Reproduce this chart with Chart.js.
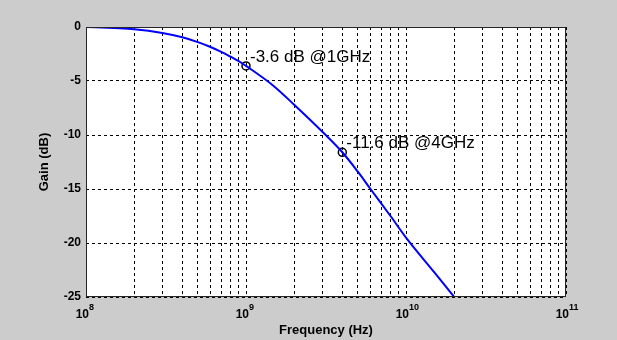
<!DOCTYPE html>
<html>
<head>
<meta charset="utf-8">
<script src="https://cdn.jsdelivr.net/npm/chart.js@4.4.0/dist/chart.umd.min.js"></script>
<style>
  html, body { margin: 0; padding: 0; background: #cccccc; }
  #wrap { width: 617px; height: 340px; position: relative; }
</style>
</head>
<body>
<div id="wrap"><canvas id="gainChart"></canvas></div>
<script>
// frequency response
const freqHz = [1e8, 1.5e8, 2e8, 3e8, 4e8, 5e8, 6e8, 7e8, 8e8, 9e8, 1e9,
                1.5e9, 2e9, 3e9, 4e9, 5e9, 6e9, 8e9, 1e10, 1.5e10, 2e10];
const gainDb = [0, -0.1, -0.2, -0.55, -0.95, -1.4, -1.85, -2.3, -2.75, -3.15, -3.6,
                -5.5, -7.2, -9.7, -11.6, -13.4, -15.0, -17.5, -19.5, -22.7, -25];

// marked points and their notes
const markFreq = [1e9, 4e9];
const markGain = [-3.6, -11.6];
const markText = ['-3.6 dB @1GHz', '-11.6 dB @4GHz'];

// axis ticks
const xDecades = [8, 9, 10, 11];
const xGridValues = [
  1e8, 2e8, 3e8, 4e8, 5e8, 6e8, 7e8, 8e8, 9e8,
  1e9, 2e9, 3e9, 4e9, 5e9, 6e9, 7e9, 8e9, 9e9,
  1e10, 2e10, 3e10, 4e10, 5e10, 6e10, 7e10, 8e10, 9e10,
  1e11
];
const yTicks = [0, -5, -10, -15, -20, -25];

const FONT = "'Liberation Sans', Arial, sans-serif";

// white plot area, box, point notes and 10^n labels
const matlabLook = {
  id: 'matlabLook',
  beforeDraw(chart) {
    const { ctx, chartArea: a } = chart;
    ctx.save();
    ctx.fillStyle = '#ffffff';
    ctx.fillRect(a.left, a.top, a.right - a.left, a.bottom - a.top);
    ctx.restore();
  },
  afterDatasetsDraw(chart) {
    const { ctx, chartArea: a, scales } = chart;
    ctx.save();
    ctx.strokeStyle = '#262626';
    ctx.lineWidth = 1;
    ctx.strokeRect(a.left + 0.5, a.top + 0.5, a.right - a.left - 1, a.bottom - a.top - 1);

    // notes next to the markers
    ctx.fillStyle = '#000';
    ctx.font = '17px ' + FONT;
    ctx.textAlign = 'left';
    ctx.textBaseline = 'alphabetic';
    markText.forEach((t, i) => {
      const px = scales.x.getPixelForValue(markFreq[i]);
      const py = scales.y.getPixelForValue(markGain[i]);
      ctx.fillText(t, px + 4, py - 4);
    });

    // decade labels with raised exponent
    xDecades.forEach(d => {
      const px = scales.x.getPixelForValue(Math.pow(10, d));
      ctx.font = 'bold 12px ' + FONT;
      ctx.textAlign = 'right';
      ctx.fillText('10', px + 3, a.bottom + 21);
      ctx.font = 'bold 9px ' + FONT;
      ctx.textAlign = 'left';
      ctx.fillText(String(d), px + 3, a.bottom + 13);
    });
    ctx.restore();
  }
};

new Chart(document.getElementById('gainChart'), {
  type: 'line',
  data: {
    datasets: [
      {
        label: 'Gain',
        data: freqHz.map((f, i) => ({ x: f, y: gainDb[i] })),
        borderColor: '#0000ff',
        borderWidth: 2,
        pointRadius: 0,
        fill: false,
        cubicInterpolationMode: 'monotone'
      },
      {
        label: 'Marks',
        data: markFreq.map((f, i) => ({ x: f, y: markGain[i] })),
        showLine: false,
        pointStyle: 'circle',
        pointRadius: 4,
        pointBorderColor: '#000',
        pointBackgroundColor: 'rgba(0,0,0,0)',
        pointBorderWidth: 1.5
      }
    ]
  },
  options: {
    responsive: true,
    maintainAspectRatio: false,
    animation: false,
    layout: { padding: { left: 0, top: 27, right: 51, bottom: 0 } },
    plugins: { legend: { display: false }, tooltip: { enabled: false } },
    scales: {
      x: {
        type: 'logarithmic',
        min: 1e8,
        max: 1e11,
        afterBuildTicks: s => { s.ticks = xGridValues.map(v => ({ value: v })); },
        afterFit: s => { s.height = 43; },
        ticks: { autoSkip: false, maxRotation: 0, callback: () => '' },
        grid: { color: '#000', lineWidth: 1, drawTicks: false },
        border: { display: false, dash: [3, 3] },
        title: {
          display: true,
          text: 'Frequency (Hz)',
          color: '#000',
          font: { family: FONT, size: 13, weight: 'bold' },
          padding: { top: 0, bottom: 2 }
        }
      },
      y: {
        min: -25,
        max: 0,
        afterBuildTicks: s => { s.ticks = yTicks.map(v => ({ value: v })); },
        afterFit: s => { s.width = 86; },
        ticks: {
          color: '#000',
          padding: 5,
          font: { family: FONT, size: 12, weight: 'bold' }
        },
        grid: { color: '#000', lineWidth: 1, drawTicks: false },
        border: { display: false, dash: [3, 3] },
        title: {
          display: true,
          text: 'Gain (dB)',
          color: '#000',
          font: { family: FONT, size: 13, weight: 'bold' },
          padding: { top: 37, bottom: 0 }
        }
      }
    }
  },
  plugins: [matlabLook]
});
</script>
</body>
</html>
